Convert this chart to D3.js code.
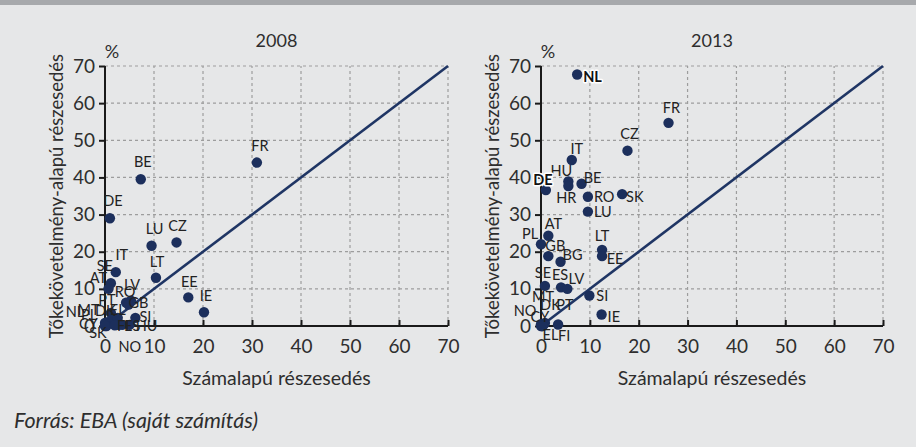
<!DOCTYPE html>
<html><head><meta charset="utf-8">
<script src="https://cdn.jsdelivr.net/npm/d3@7"></script>
<style>
html,body{margin:0;padding:0;background:#e6e7e8;}
svg{display:block;font-family:Lato,"Open Sans",sans-serif;}
</style></head>
<body><svg id="c" width="916" height="447"></svg>
<script>
// ---- data ----
const ticks = [0,10,20,30,40,50,60,70];
const panelTitles = ["2008","2013"];
const xTitle = "Számalapú részesedés";
const yTitle = "Tőkekövetelmény-alapú részesedés";
const unitLabel = "%";
const source = "Forrás: EBA (saját számítás)";

const countries2008 = ["FR","BE","DE","LU","CZ","LT","EE","IE","SI","IT","SE","AT","LV","RO","GB","PT","NL","MT","DK","EL","PL","CY","SK","FI","ES","HU","NO"];
const x2008 = [31.0,7.3,1.0,9.5,14.6,10.4,17.0,20.2,6.2,2.2,1.2,0.7,5.3,4.3,4.8,1.2,0.2,0.5,1.5,2.6,0.0,0.3,0.0,2.7,3.5,5.0,2.0];
const y2008 = [44.0,39.5,29.0,21.6,22.5,13.0,7.7,3.7,2.2,14.5,11.5,10.0,6.8,6.3,5.8,3.5,0.8,1.0,1.5,2.2,0.8,0.0,0.0,0.3,0.3,0.3,0.2];

const countries2013 = ["NL","FR","CZ","SK","IT","HU","HR","BE","DE","RO","LU","AT","PL","LT","EE","GB","BG","SE","ES","LV","SI","IE","MT","DK","PT","NO","CY","EL","FI"];
const x2013 = [7.4,26.1,17.7,16.6,6.3,5.6,5.6,8.3,1.0,9.6,9.6,1.5,0.0,12.5,12.5,1.5,4.0,0.8,4.1,5.4,9.9,12.4,0.0,0.5,0.8,0.0,0.2,0.3,3.5];
const y2013 = [67.7,54.7,47.2,35.5,44.7,38.9,37.7,38.3,36.6,34.8,30.8,24.3,22.0,20.5,18.8,18.8,17.3,10.8,10.4,10.0,8.2,3.1,0.5,0.3,0.8,0.0,0.0,0.0,0.4];

// ---- label placement (layout only: pixel offset from the dot, anchor) ----
const place2008 = {FR:[3,-17],BE:[2,-17],DE:[3,-17],LU:[3,-17],CZ:[1,-17],LT:[1,-16],EE:[1,-15],IE:[2,-16],
  SI:[10,-1],IT:[6,-17],SE:[-6,-17],AT:[-10,-11],LV:[1,-16],RO:[-1,-11],GB:[10,-2],PT:[-4,-13],
  NL:[-31,-11],MT:[-19,-12],DK:[-7,-10],EL:[0,-8],PL:[-16,-8],CY:[-18,-2],SK:[-7,7],
  FI:[5,1],ES:[10,1],HU:[17,1],NO:[15,22]};
const place2013 = {NL:[6,2,"start"],FR:[3,-15],CZ:[2,-17],SK:[4,3,"start"],IT:[5,-11],HU:[-7,-11],HR:[-2,12],
  BE:[11,-6],DE:[-3,-10],RO:[6,0,"start"],LU:[6,0,"start"],AT:[5,-12],PL:[-11,-10],LT:[0,-14],EE:[13,3],
  GB:[7,-10],BG:[12,-7],SE:[-2,-13],ES:[-1,-12],LV:[9,-10],SI:[7,0,"start"],IE:[6,2,"start"],
  MT:[2,-27],DK:[7,-20],PT:[20,-18],NO:[-16,-15],CY:[-2,-9],EL:[8,9],FI:[6,11]};
const halo2013 = ["NL","DE"];

const svg = d3.select("#c");
const W=916,H=447;
svg.append("rect").attr("width",W).attr("height",H).attr("fill","#e6e7e8");
svg.append("rect").attr("width",W).attr("height",5).attr("fill","#a7a9ac");

const dotColor="#1c2f5c", lineColor="#1f3564", textColor="#2e2e2e";

function panel(opt){
  const x=d3.scaleLinear().domain([0,70]).range([opt.x0,opt.x1]);
  const y=d3.scaleLinear().domain([0,70]).range([opt.y0,opt.y1]);
  const g=svg.append("g");
  // grid
  g.selectAll(".gx").data(ticks.slice(1)).join("line")
    .attr("x1",d=>x(d)).attr("x2",d=>x(d)).attr("y1",y(0)).attr("y2",y(70))
    .attr("stroke","#9d9d9d").attr("stroke-width",1.2).attr("stroke-dasharray","3,3");
  g.selectAll(".gy").data(ticks.slice(1)).join("line")
    .attr("x1",x(0)).attr("x2",x(70)).attr("y1",d=>y(d)).attr("y2",d=>y(d))
    .attr("stroke","#9d9d9d").attr("stroke-width",1.2).attr("stroke-dasharray","3,3");
  // axes
  const ax=g.append("g").attr("transform",`translate(0,${y(0)})`)
    .call(d3.axisBottom(x).tickValues(ticks).tickSize(-6).tickPadding(26).tickFormat(d3.format("d")));
  const ay=g.append("g").attr("transform",`translate(${x(0)},0)`)
    .call(d3.axisLeft(y).tickValues(ticks).tickSize(6).tickPadding(4).tickFormat(d3.format("d")));
  [ax,ay].forEach(a=>{
    a.select(".domain").attr("stroke","#1a1a1a").attr("stroke-width",2);
    a.selectAll(".tick line").attr("stroke","#1a1a1a").attr("stroke-width",2);
    a.selectAll("text").attr("font-size",19).attr("fill",textColor).attr("font-family","Lato");
  });
  ax.select(".domain").attr("d",`M${x(0)},0H${x(70)}`);
  ax.selectAll(".tick text").attr("dy","0").attr("y",27);
  ay.select(".domain").attr("d",`M0,${y(0)}V${y(70)}`);
  // diagonal
  g.append("line").attr("x1",x(0)).attr("y1",y(0)).attr("x2",x(70)).attr("y2",y(70))
    .attr("stroke",lineColor).attr("stroke-width",2.6);
  // data
  const pts=opt.names.map((n,i)=>({n,x:opt.xs[i],y:opt.ys[i]}));
  g.selectAll("circle.p").data(pts).join("circle")
    .attr("cx",d=>x(d.x)).attr("cy",d=>y(d.y)).attr("r",5.2).attr("fill",dotColor);
  pts.forEach(d=>{
    const p=opt.place[d.n]||[0,-15];
    const t=g.append("text").attr("x",x(d.x)+p[0]).attr("y",y(d.y)+p[1])
      .attr("dy","0.35em").attr("text-anchor",p[2]||"middle")
      .attr("font-size",14.5).attr("fill","#222").text(d.n);
    if(opt.halo && opt.halo.includes(d.n)){
      t.attr("font-weight","bold").attr("fill","#111").attr("stroke","#fff").attr("stroke-width",3)
       .attr("paint-order","stroke").attr("stroke-linejoin","round");
    }
  });
  // titles
  const cx=(opt.x0+opt.x1)/2;
  svg.append("text").attr("x",cx).attr("y",47).attr("text-anchor","middle")
    .attr("font-size",18).attr("fill",textColor).text(opt.title);
  svg.append("text").attr("x",opt.x0+7).attr("y",58).attr("text-anchor","middle")
    .attr("font-size",18).attr("fill",textColor).text(unitLabel);
  svg.append("text").attr("x",cx).attr("y",385).attr("text-anchor","middle")
    .attr("font-size",19.5).attr("fill",textColor).text(xTitle);
  svg.append("text").attr("transform",`translate(${opt.x0-48},${(opt.y0+opt.y1)/2}) rotate(-90)`)
    .attr("text-anchor","middle").attr("dy","0.35em")
    .attr("font-size",18.5).attr("fill",textColor).text(yTitle);
}

panel({x0:105,x1:448,y0:326,y1:66,title:panelTitles[0],names:countries2008,xs:x2008,ys:y2008,place:place2008});
panel({x0:541,x1:883,y0:326,y1:66,title:panelTitles[1],names:countries2013,xs:x2013,ys:y2013,place:place2013,halo:halo2013});

svg.append("text").attr("x",14).attr("y",428).attr("font-size",21.5).attr("font-style","italic")
  .attr("fill",textColor).text(source);
</script></body></html>
